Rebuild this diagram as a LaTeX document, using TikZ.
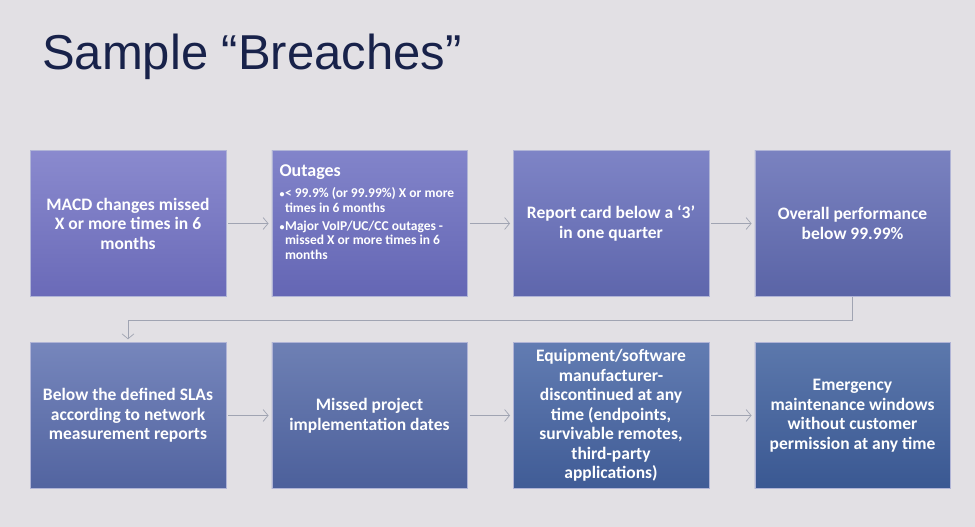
\documentclass[tikz,border=0pt]{standalone}
\usepackage{fontspec}
\setmainfont{Carlito}
\newfontfamily\titlefont{Liberation Sans}
\usetikzlibrary{positioning,arrows.meta}

\definecolor{bgcol}{RGB}{226,224,228}
\definecolor{titlecol}{RGB}{24,34,74}
\definecolor{linecol}{RGB}{160,164,178}
\definecolor{edgecol}{RGB}{176,180,214}
\definecolor{bonetop}{RGB}{138,138,206}
\definecolor{bonebot}{RGB}{106,106,184}
\definecolor{btwotop}{RGB}{130,132,202}
\definecolor{btwobot}{RGB}{100,102,180}
\definecolor{bthreetop}{RGB}{126,132,198}
\definecolor{bthreebot}{RGB}{94,102,172}
\definecolor{bfourtop}{RGB}{122,130,192}
\definecolor{bfourbot}{RGB}{90,100,166}
\definecolor{bfivetop}{RGB}{118,134,188}
\definecolor{bfivebot}{RGB}{82,100,160}
\definecolor{bsixtop}{RGB}{110,128,180}
\definecolor{bsixbot}{RGB}{76,96,155}
\definecolor{bseventop}{RGB}{98,124,178}
\definecolor{bsevenbot}{RGB}{64,92,150}
\definecolor{beighttop}{RGB}{92,120,172}
\definecolor{beightbot}{RGB}{58,88,146}

\tikzstyle{custblock} = [rectangle, minimum width=195.5pt, minimum height=146pt, inner sep=0pt, text centered, align=center, text=white, draw=edgecol, line width=0.5pt, font=\bfseries\fontsize{17.5}{19.5}\selectfont]
\tikzstyle{flowarrow} = [->, >={Straight Barb[length=5pt,width=12pt]}, draw=linecol, line width=0.7pt, shorten <=2pt, shorten >=3pt]

\newcommand{\bulitem}[1]{\par\hangindent=5.5pt\hangafter=1\noindent\makebox[5.5pt][l]{\fontsize{10}{10}\selectfont•}#1}

\begin{document}
\begin{tikzpicture}[x=1pt, y=-1pt, node distance=45.5pt]
\fill[bgcol] (0,0) rectangle (975,527);
\useasboundingbox (0,0) rectangle (975,527);

%Title
\node (title) [anchor=base west, inner sep=0pt, text=titlecol, font=\titlefont\fontsize{49}{58}\selectfont] at (42,70) {Sample “Breaches”};

%Custom blocks
\node (macd) [custblock, top color=bonetop, bottom color=bonebot] at (128,223.5) {MACD changes missed\\X or more times in 6\\months};
\node (outages) [custblock, right=45.5pt of macd, top color=btwotop, bottom color=btwobot] {\parbox[c][146pt][t]{180pt}{\raggedright\vspace*{14pt}{\fontsize{18}{19}\selectfont Outages}\par\vspace{7pt}\fontsize{13.5}{14.5}\selectfont
\bulitem{< 99.9\% (or 99.99\%) X or more times in 6 months}\par\vspace{3.5pt}
\bulitem{Major VoIP/UC/CC outages - missed X or more times in 6 months}}};
\node (report) [custblock, right=45.5pt of outages, top color=bthreetop, bottom color=bthreebot] {Report card below a ‘3’\\in one quarter};
\node (overall) [custblock, right=45.5pt of report, top color=bfourtop, bottom color=bfourbot] {Overall performance\\below 99.99\%};
\node (sla) [custblock, below=45.5pt of macd, top color=bfivetop, bottom color=bfivebot] {Below the defined SLAs\\according to network\\measurement reports};
\node (project) [custblock, right=45.5pt of sla, top color=bsixtop, bottom color=bsixbot] {Missed project\\implementation dates};
\node (equip) [custblock, right=45.5pt of project, top color=bseventop, bottom color=bsevenbot] {Equipment/software\\manufacturer-\\discontinued at any\\time (endpoints,\\survivable remotes,\\third-party\\applications)};
\node (emerg) [custblock, right=45.5pt of equip, top color=beighttop, bottom color=beightbot] {Emergency\\maintenance windows\\without customer\\permission at any time};

%Arrows
\draw [flowarrow] (macd.east) -- (outages.west);
\draw [flowarrow] (outages.east) -- (report.west);
\draw [flowarrow] (report.east) -- (overall.west);
\draw [flowarrow, shorten <=0pt] (overall.south) -- ++(0,24) -| (sla.north);
\draw [flowarrow] (sla.east) -- (project.west);
\draw [flowarrow] (project.east) -- (equip.west);
\draw [flowarrow] (equip.east) -- (emerg.west);
\end{tikzpicture}
\end{document}
